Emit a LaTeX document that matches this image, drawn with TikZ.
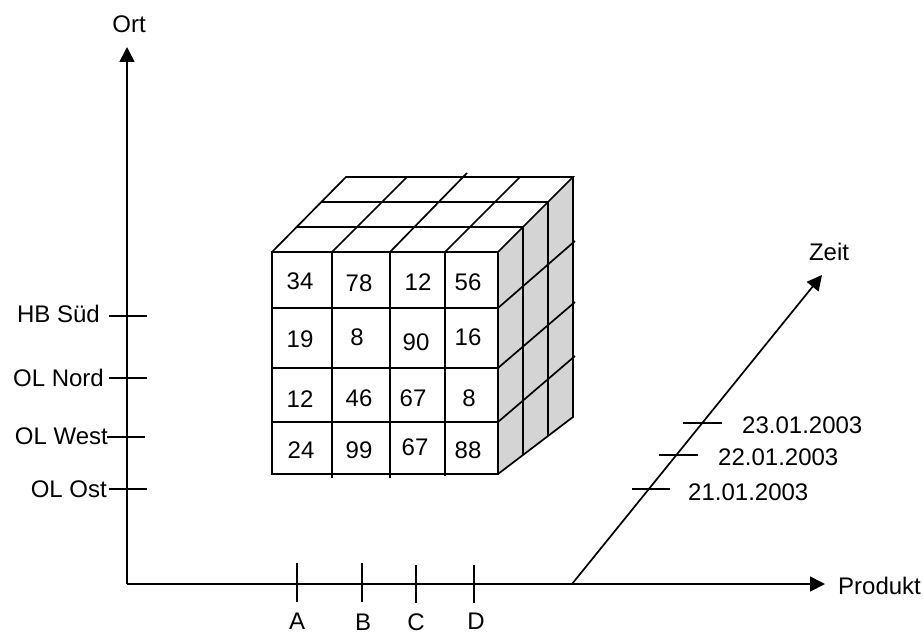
\documentclass[tikz,border=0pt]{standalone}
\usepackage{fontspec}
\setmainfont{Liberation Sans}
\usetikzlibrary{arrows.meta}
\definecolor{sidegray}{RGB}{212,212,212}
\begin{document}
\begin{tikzpicture}[x=1pt,y=-1pt,
  ln/.style={line width=1.7pt},
  lbl/.style={inner sep=0pt,font=\fontsize{24}{28}\selectfont},
  axisarrow/.style={ln,-{Triangle[length=15pt,width=15pt]}},
]
\useasboundingbox (0,0) rectangle (923,634);
% axes
\coordinate (O) at (127,584);
\coordinate (ytip) at (127,47);
\coordinate (xtip) at (825,584);
\coordinate (zstart) at (572,584);
\coordinate (ztip) at (822,275);
\draw[axisarrow] (O) -- (ytip);
\draw[axisarrow] (O) -- (xtip);
\draw[axisarrow] (zstart) -- (ztip);
\node[lbl] (ort) at (129,24) {Ort};
\node[lbl,anchor=west] (produkt) at (838,586) {Produkt};
\node[lbl] (zeit) at (829,252) {Zeit};
% Ort ticks
\draw[ln] (109,316) -- (147,316);
\draw[ln] (109,378) -- (147,378);
\draw[ln] (107,437) -- (145,437);
\draw[ln] (109,489) -- (147,489);
\node[lbl,anchor=east] (hb) at (100,314) {HB Süd};
\node[lbl,anchor=east] (oln) at (104,378) {OL Nord};
\node[lbl,anchor=east] (olw) at (108,436) {OL West};
\node[lbl,anchor=east] (olo) at (107,489) {OL Ost};
% Produkt ticks
\draw[ln] (297,563) -- (297,602);
\draw[ln] (362,563) -- (362,602);
\draw[ln] (416,565) -- (416,603);
\draw[ln] (474,565) -- (474,603);
\node[lbl] (pa) at (297,621.5) {A};
\node[lbl] (pb) at (363,622.5) {B};
\node[lbl] (pc) at (416,622) {C};
\node[lbl] (pd) at (476,621) {D};
% Zeit ticks
\draw[ln] (632,489) -- (670,489);
\draw[ln] (659,455) -- (698,455);
\draw[ln] (683,423) -- (722,423);
\node[lbl,anchor=west] (d21) at (688,492) {21.01.2003};
\node[lbl,anchor=west] (d22) at (718,457) {22.01.2003};
\node[lbl,anchor=west] (d23) at (742,425) {23.01.2003};
% cube: right face
\fill[sidegray] (498,252) -- (573,177) -- (573,417) -- (498,474) -- cycle;
\draw[ln] (573,177) -- (573,417) -- (498,474);
\draw[ln] (498,308) -- (575,241);
\draw[ln] (498,368) -- (575,302);
\draw[ln] (498,422) -- (575,356);
\draw[ln] (523,227) -- (523,455);
\draw[ln] (548,202) -- (548,436);
% cube: top face
\draw[ln] (272,252) -- (346,177) -- (573,177) -- (498,252);
\draw[ln] (297,227) -- (523,227);
\draw[ln] (322,202) -- (548,202);
\draw[ln] (332,252) -- (407,177);
\draw[ln] (390,252) -- (467,173);
\draw[ln] (445,252) -- (520,177);
% cube: front face
\draw[ln] (272,252) rectangle (498,474);
\draw[ln] (272,308) -- (498,308);
\draw[ln] (272,368) -- (498,368);
\draw[ln] (272,422) -- (498,422);
\draw[ln] (332,252) -- (332,478);
\draw[ln] (390,252) -- (390,478);
\draw[ln] (445,252) -- (445,476);
% numbers
\node[lbl] (c11) at (300,281) {34};
\node[lbl] (c12) at (359,283) {78};
\node[lbl] (c13) at (418,282) {12};
\node[lbl] (c14) at (468,282) {56};
\node[lbl] (c21) at (300,339) {19};
\node[lbl] (c22) at (357,337) {8};
\node[lbl] (c23) at (416,342) {90};
\node[lbl] (c24) at (468,337) {16};
\node[lbl] (c31) at (300,399) {12};
\node[lbl] (c32) at (359,398) {46};
\node[lbl] (c33) at (413,398) {67};
\node[lbl] (c34) at (469,398) {8};
\node[lbl] (c41) at (301,450) {24};
\node[lbl] (c42) at (359,450) {99};
\node[lbl] (c43) at (415,447) {67};
\node[lbl] (c44) at (468,450) {88};
\end{tikzpicture}
\end{document}
